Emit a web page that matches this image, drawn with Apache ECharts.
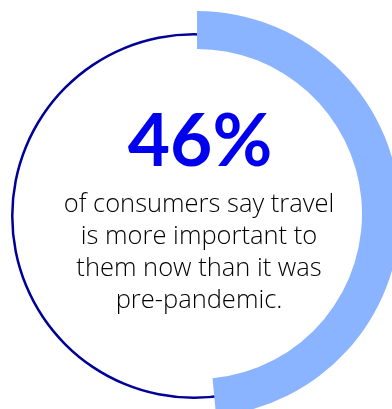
<!DOCTYPE html>
<html>
<head>
<meta charset="utf-8">
<script src="https://cdn.jsdelivr.net/npm/echarts@6/dist/echarts.min.js"></script>
<style>html,body{margin:0;padding:0;background:#fff;}#c{width:392px;height:409px;}</style>
</head>
<body>
<div id="c"></div>
<script>
// Data
const headline = "46%";
const bodyLines = ["of consumers say travel", "is more important to", "them now than it was", "pre-pandemic."];
const arcShare = [48.5, 51.5]; // filled arc vs remainder (as drawn)
const ringShare = [100];

const chart = echarts.init(document.getElementById('c'), null, {renderer: 'canvas'});
const option = {
  animation: false,
  backgroundColor: '#ffffff',
  title: [
    {
      text: headline,
      left: 195, top: 101, textAlign: 'center',
      textStyle: {fontFamily: 'Lato', fontWeight: 'bold', fontSize: 73, color: '#0000EE'}
    },
    {
      text: bodyLines.join('\n'),
      left: 194, top: 184, textAlign: 'center',
      textStyle: {fontFamily: 'Open Sans', fontWeight: 300, fontSize: 25.5, lineHeight: 32, color: '#000000'}
    }
  ],
  series: [
    {
      type: 'pie', silent: true,
      center: [194, 216], radius: [180.5, 183],
      label: {show: false}, labelLine: {show: false},
      data: ringShare.map(v => ({value: v, itemStyle: {color: '#000099'}}))
    },
    {
      type: 'pie', silent: true,
      center: [197, 214], radius: [165, 203],
      startAngle: 90, clockwise: true,
      label: {show: false}, labelLine: {show: false},
      data: [
        {value: arcShare[0], itemStyle: {color: '#8AB4FF'}},
        {value: arcShare[1], itemStyle: {color: 'rgba(0,0,0,0)'}}
      ]
    }
  ]
};
chart.setOption(option);
</script>
</body>
</html>
